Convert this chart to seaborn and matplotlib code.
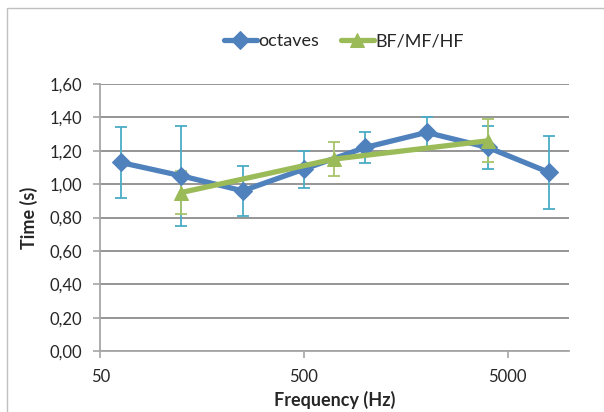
import numpy as np
import pandas as pd
import matplotlib
matplotlib.use("Agg")
import matplotlib.pyplot as plt
import matplotlib.ticker as mticker
from matplotlib.patches import Rectangle
import seaborn as sns

# data
oct_freq = [63, 125, 250, 500, 1000, 2000, 4000, 8000]
oct_time = [1.13, 1.05, 0.96, 1.09, 1.22, 1.31, 1.22, 1.07]
oct_err = [0.21, 0.30, 0.15, 0.11, 0.095, 0.095, 0.13, 0.22]

band_freq = [125, 700, 4000]
band_time = [0.95, 1.15, 1.26]
band_err = [0.13, 0.10, 0.13]

x_ticks = [50, 500, 5000]
y_ticks = [0.0, 0.2, 0.4, 0.6, 0.8, 1.0, 1.2, 1.4, 1.6]

blue = "#4F81BD"
green = "#9BBB59"
err_blue = "#4BACC6"

sns.set_style("white")
plt.rcParams["font.family"] = ["Lato", "DejaVu Sans"]

fig = plt.figure(figsize=(6.04, 4.12), dpi=100)
ax = fig.add_axes([0.166, 0.148, 0.776, 0.648])

# outer chart border
fig.patches.append(Rectangle((7 / 604, -0.05), 1.1, 1 - 8 / 412 + 0.05,
                             transform=fig.transFigure, fill=False,
                             edgecolor="#BFBFBF", linewidth=1.0))

df_oct = pd.DataFrame({"freq": oct_freq, "time": oct_time})
df_band = pd.DataFrame({"freq": band_freq, "time": band_time})

ax.errorbar(oct_freq, oct_time, yerr=oct_err, fmt="none", ecolor=err_blue,
            elinewidth=1.3, capsize=4, capthick=1.3, zorder=2)
ax.errorbar(band_freq, band_time, yerr=band_err, fmt="none", ecolor="#A8C46A",
            elinewidth=1.3, capsize=4, capthick=1.3, zorder=2)

sns.lineplot(data=df_oct, x="freq", y="time", ax=ax, color=blue, linewidth=3.8,
             marker="D", markersize=9, markeredgecolor=blue, label="octaves",
             zorder=3)
sns.lineplot(data=df_band, x="freq", y="time", ax=ax, color=green, linewidth=3.8,
             marker="^", markersize=10, markeredgecolor=green, label="BF/MF/HF",
             zorder=4)

ax.set_xscale("log")
ax.set_xlim(50, 10000)
ax.set_ylim(0, 1.6)
ax.xaxis.set_major_locator(mticker.FixedLocator(x_ticks))
ax.xaxis.set_major_formatter(mticker.FixedFormatter([str(t) for t in x_ticks]))
ax.xaxis.set_minor_locator(mticker.NullLocator())
ax.set_yticks(y_ticks)
ax.yaxis.set_major_formatter(mticker.FuncFormatter(lambda v, p: f"{v:.2f}".replace(".", ",")))

ax.grid(axis="y", color="#8C8C8C", linewidth=1.3)
ax.grid(axis="x", visible=False)
for s in ["top", "right"]:
    ax.spines[s].set_visible(False)
for s in ["left", "bottom"]:
    ax.spines[s].set_color("#A6A6A6")
    ax.spines[s].set_linewidth(1.3)

ax.tick_params(axis="both", which="major", direction="out", length=5, width=1.2,
               color="#A6A6A6", labelsize=12, pad=8, left=True, bottom=True)

ax.set_xlabel("Frequency (Hz)", fontsize=13, fontweight="bold", labelpad=4)
ax.set_ylabel("Time (s)", fontsize=13, fontweight="bold", labelpad=8)

leg = ax.legend(loc="center", bbox_to_anchor=(0.52, 1.16), ncol=2, frameon=False,
                fontsize=13, handlelength=1.8, handletextpad=0.1, columnspacing=1.2)

fig.savefig("out.png", dpi=100)
